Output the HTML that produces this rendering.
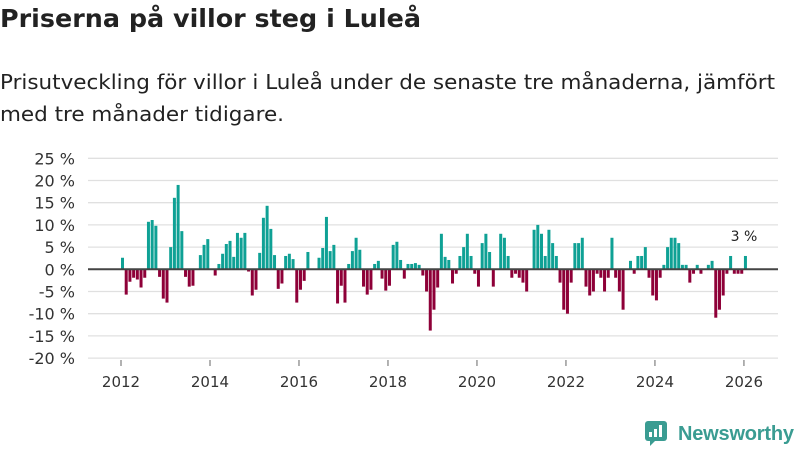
<!DOCTYPE html>
<html><head><meta charset="utf-8"><style>
body{margin:0;background:#fff;font-family:"Liberation Sans",sans-serif;}
#wrap{position:relative;width:800px;height:450px;overflow:hidden;}
.fit{position:absolute;left:0;margin:0;white-space:nowrap;transform-origin:0 0;color:#222;}
#t{top:4px;font-size:25px;font-weight:bold;font-family:"DejaVu Sans",sans-serif;}
#s1{top:70px;font-size:20px;font-family:"DejaVu Sans",sans-serif;}
#s2{top:102px;font-size:20px;font-family:"DejaVu Sans",sans-serif;}
svg{position:absolute;left:0;top:0;}
</style></head><body><div id="wrap">
<div class="fit" id="t" data-w="421">Priserna på villor steg i Luleå</div>
<div class="fit" id="s1" data-w="775">Prisutveckling för villor i Luleå under de senaste tre månaderna, jämfört</div>
<div class="fit" id="s2" data-w="284">med tre månader tidigare.</div>
<svg id="chart" width="800" height="450"></svg>
</div>
<script>
const startYear = 2012;
const values = [2.6,-5.7,-2.8,-1.9,-2.3,-4.1,-1.9,10.7,11.1,9.8,-1.7,-6.6,
-7.5,5.0,16.1,19.0,8.6,-1.7,-3.9,-3.7,0,3.2,5.5,6.8,
0,-1.4,1.2,3.5,5.7,6.4,2.8,8.2,7.1,8.2,-0.5,-5.9,
-4.6,3.7,11.6,14.3,9.1,3.2,-4.4,-3.2,3.0,3.5,2.3,-7.5,
-4.6,-2.6,3.9,0,0,2.6,4.8,11.8,4.1,5.5,-7.7,-3.7,
-7.5,1.2,4.1,7.1,4.4,-3.9,-5.7,-4.6,1.2,1.9,-2.1,-4.8,
-3.7,5.5,6.2,2.1,-2.1,1.2,1.2,1.4,1.0,-1.4,-5.0,-13.8,
-9.1,-4.1,8.0,2.8,2.1,-3.2,-1.0,3.0,5.0,8.0,3.0,-1.0,
-3.9,5.9,8.0,3.9,-3.9,0,8.0,7.1,3.0,-1.9,-1.0,-1.9,
-3.0,-5.0,0,8.9,10.0,8.0,3.0,8.9,5.9,3.0,-3.0,-9.1,
-10.0,-3.0,5.9,5.9,7.1,-3.9,-5.9,-5.0,-1.0,-1.9,-5.0,-1.9,
7.1,-1.9,-5.0,-9.1,0,1.9,-1.0,3.0,3.0,5.0,-1.9,-5.9,
-7.0,-1.9,1.0,5.0,7.1,7.1,5.9,1.0,1.0,-3.0,-1.0,1.0,
-1.0,0,1.0,1.9,-10.9,-9.1,-5.9,-1.0,3.0,-1.0,-1.0,-1.0,
3.0];
const yTicks = [25,20,15,10,5,0,-5,-10,-15,-20];
const xTicks = [2012,2014,2016,2018,2020,2022,2024,2026];
const lastLabel = "3 %";

document.querySelectorAll('.fit').forEach(el=>{
  const w=el.getBoundingClientRect().width;
  el.style.transform='scaleX('+(parseFloat(el.dataset.w)/w)+')';
});
const svg = document.getElementById('chart');
const NS = 'http://www.w3.org/2000/svg';
function y(v){return 269.3 - v*4.44;}
function xm(k){return 121 + k*3.708;}
function xy(yr){return xm((yr-startYear)*12);}
function mk(t,a){const e=document.createElementNS(NS,t);for(const k in a)e.setAttribute(k,a[k]);svg.appendChild(e);return e;}
yTicks.forEach(t=>{
  const l=mk('line',{x1:88,x2:778,y1:y(t),y2:y(t),stroke:'#e0e0e0','stroke-width':1.3});
  
  
  const tx=mk('text',{x:75,y:y(t)+6,'text-anchor':'end','font-size':16,fill:'#333','font-family':'DejaVu Sans, sans-serif'});
  tx.textContent=t+' %';
  
  
});
xTicks.forEach(t=>{
  const l=mk('line',{x1:xy(t),x2:xy(t),y1:360,y2:366,stroke:'#666','stroke-width':1});
  
  
  const tx=mk('text',{x:xy(t),y:387,'text-anchor':'middle','font-size':15,fill:'#333','font-family':'DejaVu Sans, sans-serif'});
  tx.textContent=t;
  
  
});
values.forEach((v,k)=>{
  if(!v)return;
  const r=mk('rect',{x:xm(k),width:3,y:Math.min(y(v),y(0)),height:Math.abs(y(v)-y(0)),fill:v>0?'#0fa195':'#8e0038'});
  
  
});
const z=mk('line',{x1:88,x2:778,y1:y(0),y2:y(0),stroke:'#444','stroke-width':2});


const last=values.length-1;
const lab=mk('text',{x:xm(last),y:y(values[last])-15,'text-anchor':'middle','font-size':14,fill:'#222','font-family':'DejaVu Sans, sans-serif'});
lab.textContent=lastLabel;


</script>
<svg width="800" height="450" style="position:absolute;left:0;top:0">
<rect x="645" y="421" width="22" height="20" rx="3" fill="#3a9c92"/>
<polygon points="650,440 656,440 650,446" fill="#3a9c92"/>
<rect x="649" y="432" width="3" height="5" fill="#fff"/><rect x="654" y="429" width="3" height="8" fill="#fff"/><rect x="659" y="425" width="3" height="12" fill="#fff"/>
<text x="678" y="440" font-size="20" font-weight="bold" fill="#3a9c92" font-family="Liberation Sans, sans-serif" textLength="116">Newsworthy</text>
</svg>
</body></html>
